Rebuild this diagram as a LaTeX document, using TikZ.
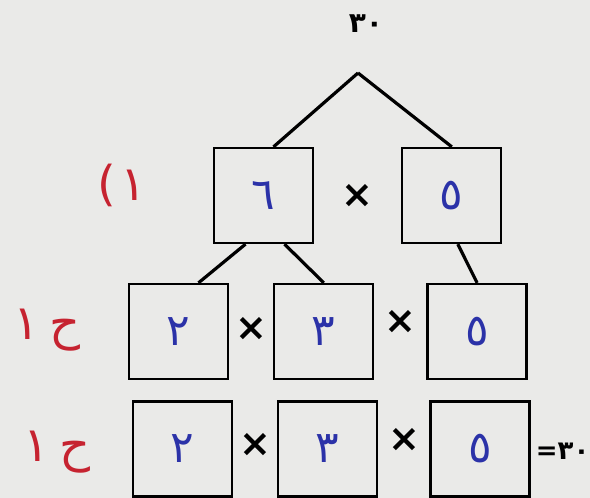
\documentclass[tikz,border=0pt]{standalone}
\usepackage{fontspec}
\usepackage{xcolor}
\usepackage{tikz}
\usetikzlibrary{positioning,calc}
\TeXXeTstate=1
\newfontfamily\arabicfont[Script=Arabic]{DejaVu Sans}
\newfontfamily\plainfont{DejaVu Sans}
\definecolor{board}{HTML}{EAEAE8}
\definecolor{penblue}{HTML}{2B32A8}
\definecolor{penred}{HTML}{C62330}

\begin{document}
\begin{tikzpicture}[
  x=1pt,y=1pt,
  box/.style={draw,line width=2.3pt,minimum width=99pt,minimum height=95pt,inner sep=0pt,
    text=penblue,font=\arabicfont\fontsize{44}{44}\selectfont},
  mul/.style={inner sep=0pt,font=\plainfont\bfseries\fontsize{38}{38}\selectfont},
  lbl/.style={inner sep=0pt,text=penred,font=\arabicfont\fontsize{48}{48}\selectfont},
  branch/.style={line width=3.2pt}
]
\fill[board] (0,0) rectangle (590,498);
% the number and the top of the tree
\node[inner sep=0pt,font=\arabicfont\bfseries\fontsize{28}{28}\selectfont] (thirty) at (366,474) {٣٠};
\coordinate (apex) at (358,425);
% first split
\node[box] (six) at (263.5,302.5) {٦};
\node[box,right=87pt of six] (five) {٥};
% second split
\node[box] (twoa) at (178.5,166.5) {٢};
\node[box,right=44pt of twoa] (threea) {٣};
\node[box,right=52pt of threea] (fivea) {٥};
% product line
\node[box] (twob) at (182.5,49) {٢};
\node[box,right=44pt of twob] (threeb) {٣};
\node[box,right=51pt of threeb] (fiveb) {٥};
\node[inner sep=0pt,anchor=west,font=\arabicfont\bfseries\fontsize{26}{26}\selectfont,right=5pt of fiveb,yshift=-2pt] (total) {\mbox{=}\mbox{٣٠}};
% times signs
\node[mul] (m1) at ($(six.east)!.5!(five.west)$) {×};
\node[mul] (m2) at ($(twoa.east)!.5!(threea.west)+(0,3)$) {×};
\node[mul] (m3) at ($(threea.east)!.5!(fivea.west)+(0,10)$) {×};
\node[mul] (m4) at ($(twob.east)!.5!(threeb.west)+(0,4)$) {×};
\node[mul] (m5) at ($(threeb.east)!.5!(fiveb.west)+(0,9)$) {×};
% step marks
\node[lbl] (s1) at (122,313) {\mbox{\plainfont (}\kern4pt\mbox{١}};
\node[lbl] (s2) at (47,168) {\mbox{١}\kern10pt\mbox{ح}};
\node[lbl] (s3) at (57,46) {\mbox{١}\kern10pt\mbox{ح}};
% branches
\draw[branch] (apex)--([xshift=10pt]six.north);
\draw[branch] (apex)--(five.north);
\draw[branch] ([xshift=-18pt]six.south)--([xshift=20pt]twoa.north);
\draw[branch] ([xshift=21pt]six.south)--(threea.north);
\draw[branch] ([xshift=6pt]five.south)--(fivea.north);
\end{tikzpicture}
\end{document}
